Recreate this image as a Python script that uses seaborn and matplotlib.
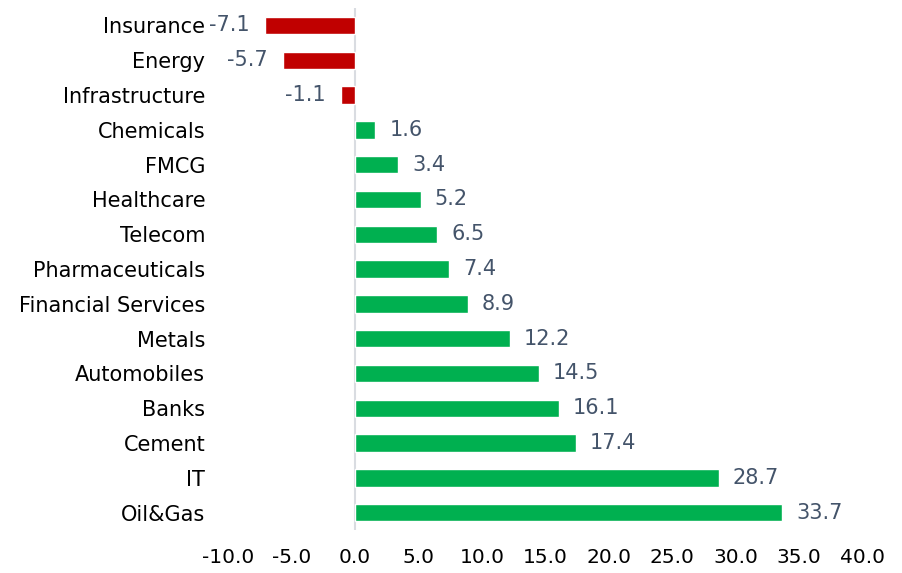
import matplotlib
matplotlib.use('Agg')
import matplotlib.pyplot as plt
import pandas as pd
import seaborn as sns

# Sector returns (%), top to bottom as shown
sectors = ['Insurance', 'Energy', 'Infrastructure', 'Chemicals', 'FMCG', 'Healthcare',
           'Telecom', 'Pharmaceuticals', 'Financial Services', 'Metals', 'Automobiles',
           'Banks', 'Cement', 'IT', 'Oil&Gas']
returns = [-7.1, -5.7, -1.1, 1.6, 3.4, 5.2, 6.5, 7.4, 8.9, 12.2, 14.5, 16.1, 17.4, 28.7, 33.7]
x_ticks = [-10, -5, 0, 5, 10, 15, 20, 25, 30, 35, 40]

df = pd.DataFrame({'sector': sectors, 'ret': returns})

sns.set_style('white')
plt.rcParams['font.family'] = ['DejaVu Sans']

fig = plt.figure(figsize=(9.02, 5.73), dpi=100)
ax = fig.add_axes([0.253, 0.075, 0.703, 0.911])

colors = ['#C00000' if v < 0 else '#00B050' for v in returns]
sns.barplot(data=df, y='sector', x='ret', hue='sector', palette=colors, legend=False,
            orient='h', width=0.5, ax=ax, saturation=1)

ax.set_xlim(-10, 40)
ax.set_xticks(x_ticks)
ax.set_xticklabels([f'{t:.1f}' for t in x_ticks], fontsize=14.5, color='black')
ax.tick_params(axis='x', length=0, pad=13)
ax.tick_params(axis='y', length=0, pad=16.5, labelsize=15, labelcolor='black')
ax.set_xlabel('')
ax.set_ylabel('')
ax.set_ylim(len(sectors) - 0.5, -0.5)

for s in ax.spines.values():
    s.set_visible(False)
ax.axvline(0, color='#D9DCE1', lw=1.5, zorder=0)

# value labels
for i, v in enumerate(returns):
    off = 10 if v >= 0 else -11
    ax.annotate(f'{v:.1f}', (v, i), xytext=(off, 0), textcoords='offset points',
                ha='left' if v >= 0 else 'right', va='center',
                fontsize=15, color='#44546A')

fig.savefig('out.png', dpi=100)
